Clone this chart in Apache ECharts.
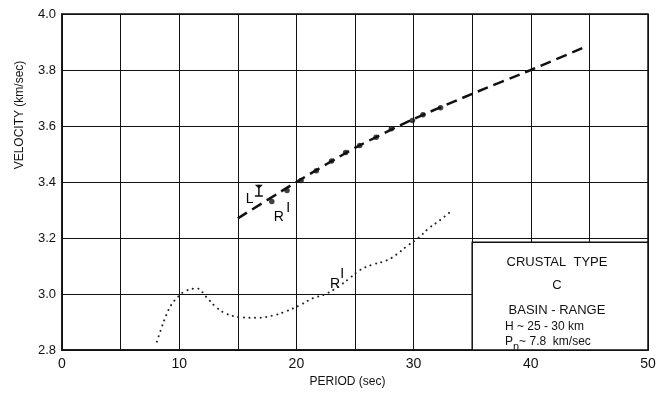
<!DOCTYPE html>
<html>
<head>
<meta charset="utf-8">
<script src="https://cdn.jsdelivr.net/npm/echarts@6/dist/echarts.min.js"></script>
<style>
  html, body { margin: 0; padding: 0; background: #fff; }
  #chart { width: 668px; height: 393px; }
</style>
</head>
<body>
<div id="chart"></div>
<script>
// dashed fitted curve (period in sec, velocity in km/sec)
const dashPeriod = [15, 20, 25, 30, 35, 40, 44.5]
const dashVel = [3.27, 3.40, 3.522, 3.625, 3.715, 3.80, 3.88]

// observed points along the dashed curve
const obsPeriod = [17.9, 19.2, 20.4, 21.7, 23.0, 24.2, 25.4, 26.8, 28.1, 29.9, 30.8, 32.3]
const obsVel = [3.33, 3.37, 3.405, 3.44, 3.475, 3.505, 3.53, 3.56, 3.59, 3.62, 3.64, 3.665]

// dotted curve
const dotPeriod = [8.1, 8.5, 8.9, 9.3, 9.9, 10.5, 11.5, 12.3, 13.1, 14.0, 15.2, 16.6, 18.0, 19.1,
  20.3, 21.4, 22.5, 23.7, 24.5, 25.4, 26.5, 27.7, 28.5, 29.4, 30.4, 31.3, 32.3, 33.3]
const dotVel = [2.83, 2.88, 2.925, 2.96, 2.99, 3.01, 3.02, 2.99, 2.955, 2.93, 2.917, 2.915, 2.923, 2.938,
  2.96, 2.985, 3.0, 3.03, 3.055, 3.085, 3.105, 3.12, 3.14, 3.17, 3.2, 3.235, 3.265, 3.30]

// L error bar: [period, low, high]
const errBar = [16.8, 3.35, 3.39]

// annotation labels: [period, velocity, text]
const notes = [
  [16.0, 3.34, 'L'],
  [18.5, 3.275, 'R'],
  [19.3, 3.305, 'I'],
  [23.3, 3.035, 'R'],
  [23.9, 3.07, 'I']
]

// info box extent (period, velocity)
const boxFrom = [35, 2.8]
const boxTo = [50, 3.185]

const xTicks = [0, 10, 20, 30, 40, 50]

const font = '"Liberation Sans", Arial, sans-serif'
const chart = echarts.init(document.getElementById('chart'), null, { renderer: 'canvas' })

const option = {
  animation: false,
  backgroundColor: '#fff',
  grid: { left: 62, right: 20, top: 14, bottom: 39, show: true, borderColor: '#111', borderWidth: 1.5, backgroundColor: 'transparent' },
  xAxis: {
    type: 'value', min: 0, max: 50, interval: 5,
    name: 'PERIOD (sec)', nameLocation: 'middle', nameGap: 26,
    nameTextStyle: { color: '#111', fontFamily: font, fontSize: 12, padding: [0, 15, 0, 0] },
    axisLine: { show: true, lineStyle: { color: '#111', width: 1.5 } },
    axisTick: { show: false },
    axisLabel: {
      color: '#111', fontFamily: font, fontSize: 14, margin: 7,
      formatter: (v) => (xTicks.includes(v) ? String(v) : '')
    },
    splitLine: { show: true, lineStyle: { color: '#111', width: 1 } }
  },
  yAxis: {
    type: 'value', min: 2.8, max: 4.0, interval: 0.2,
    axisLine: { show: true, lineStyle: { color: '#111', width: 1.5 } },
    axisTick: { show: false },
    axisLabel: { color: '#111', fontFamily: font, fontSize: 13, margin: 6, formatter: (v) => v.toFixed(1) },
    splitLine: { show: true, lineStyle: { color: '#111', width: 1 } }
  },
  graphic: [
    {
      type: 'text', x: 20, y: 115, rotation: Math.PI / 2,
      style: { text: 'VELOCITY (km/sec)', font: '12px ' + font, fill: '#111', align: 'center', verticalAlign: 'middle' }
    },
    { type: 'text', x: 557, y: 262, z: 10, style: { text: 'CRUSTAL  TYPE', font: '13px ' + font, fill: '#111', align: 'center', verticalAlign: 'middle' } },
    { type: 'text', x: 557, y: 285, z: 10, style: { text: 'C', font: '13px ' + font, fill: '#111', align: 'center', verticalAlign: 'middle' } },
    { type: 'text', x: 557, y: 310, z: 10, style: { text: 'BASIN - RANGE', font: '13px ' + font, fill: '#111', align: 'center', verticalAlign: 'middle' } },
    { type: 'text', x: 505, y: 327, z: 10, style: { text: 'H ~ 25 - 30 km', font: '12px ' + font, fill: '#111', align: 'left', verticalAlign: 'middle' } },
    {
      type: 'text', x: 505, y: 342, z: 10,
      style: {
        text: 'P{sub|n}~ 7.8  km/sec', font: '12px ' + font, fill: '#111', align: 'left', verticalAlign: 'middle',
        rich: { sub: { fontSize: 11, fontFamily: font, fill: '#111', padding: [9, 0, 0, 0] } }
      }
    }
  ],
  series: [
    {
      type: 'line', name: 'box', data: [], silent: true, z: 5,
      markArea: {
        silent: true,
        itemStyle: { color: '#fff', borderColor: '#111', borderWidth: 1.5 },
        data: [[{ coord: boxFrom }, { coord: boxTo }]]
      }
    },
    {
      type: 'line', name: 'fit',
      data: dashPeriod.map((p, i) => [p, dashVel[i]]),
      smooth: 0.2, showSymbol: false,
      lineStyle: { color: '#111', width: 2.5, type: [11, 6] }
    },
    {
      type: 'line', name: 'dotted',
      data: dotPeriod.map((p, i) => [p, dotVel[i]]),
      smooth: 0.4, showSymbol: false,
      lineStyle: { color: '#222', width: 2, type: [0.1, 5.5], cap: 'round' }
    },
    {
      type: 'scatter', name: 'obs',
      data: obsPeriod.map((p, i) => [p, obsVel[i]]),
      symbolSize: 5.5, itemStyle: { color: '#111' }
    },
    {
      type: 'custom', name: 'err',
      data: [errBar],
      renderItem: (params, api) => {
        const top = api.coord([api.value(0), api.value(2)])
        const bot = api.coord([api.value(0), api.value(1)])
        const w = 4
        return {
          type: 'group',
          children: [
            { type: 'line', shape: { x1: top[0], y1: top[1], x2: bot[0], y2: bot[1] }, style: { stroke: '#111', lineWidth: 1.5 } },
            { type: 'polygon', shape: { points: [[top[0] - w, top[1]], [top[0] + w, top[1]], [top[0], top[1] + 4]] }, style: { fill: '#111' } },
            { type: 'line', shape: { x1: bot[0] - w, y1: bot[1], x2: bot[0] + w, y2: bot[1] }, style: { stroke: '#111', lineWidth: 1.5 } }
          ]
        }
      }
    },
    {
      type: 'scatter', name: 'notes',
      data: notes.map((n) => ({ value: [n[0], n[1]], name: n[2] })),
      symbolSize: 0, silent: true,
      label: {
        show: true, position: 'inside', formatter: (p) => p.name,
        color: '#000', fontFamily: font, fontSize: 14, textBorderWidth: 0, opacity: 1
      }
    }
  ]
}

chart.setOption(option)
</script>
</body>
</html>
